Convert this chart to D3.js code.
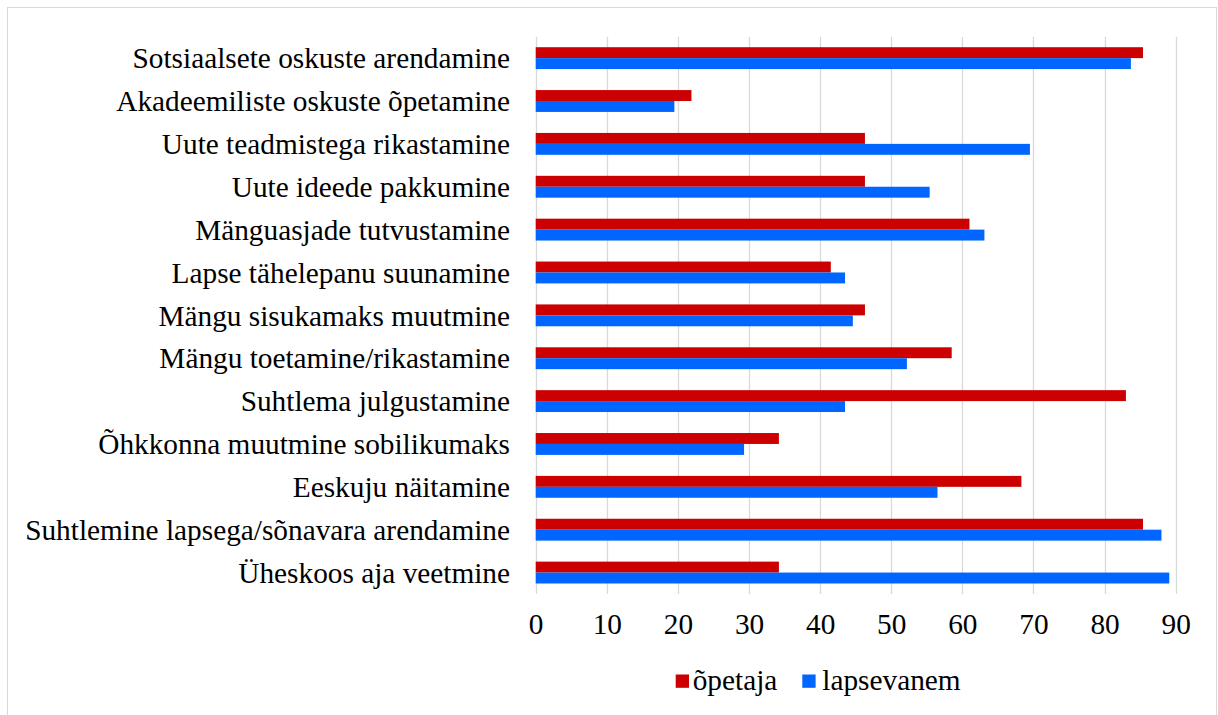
<!DOCTYPE html>
<html><head><meta charset="utf-8">
<script src="https://cdn.jsdelivr.net/npm/d3@7"></script>
<style>html,body{margin:0;padding:0;background:#fff;}svg{display:block;}
.lbl{font-family:"Liberation Serif","Times New Roman",serif;font-size:29.3px;fill:#000;}
</style>
</head><body>
<script>
const categories = [
  "Sotsiaalsete oskuste arendamine",
  "Akadeemiliste oskuste õpetamine",
  "Uute teadmistega rikastamine",
  "Uute ideede pakkumine",
  "Mänguasjade tutvustamine",
  "Lapse tähelepanu suunamine",
  "Mängu sisukamaks muutmine",
  "Mängu toetamine/rikastamine",
  "Suhtlema julgustamine",
  "Õhkkonna muutmine sobilikumaks",
  "Eeskuju näitamine",
  "Suhtlemine lapsega/sõnavara arendamine",
  "Üheskoos aja veetmine"
];
const opetaja    = [85.4, 21.9, 46.3, 46.3, 61.0, 41.5, 46.3, 58.5, 83.0, 34.2, 68.3, 85.4, 34.2];
const lapsevanem = [83.7, 19.5, 69.5, 55.4, 63.1, 43.5, 44.6, 52.2, 43.5, 29.3, 56.5, 88.0, 89.1];
const seriesNames = ["õpetaja", "lapsevanem"];
const tickValues = [0, 10, 20, 30, 40, 50, 60, 70, 80, 90];

const W = 1218, H = 715;
const colors = ["#CC0000", "#0066FF"];
const FONT = '"Liberation Serif","Times New Roman",serif';

const svg = d3.select("body").append("svg").attr("width", W).attr("height", H);
svg.append("rect").attr("x", 7.5).attr("y", 7.5).attr("width", 1209).attr("height", 720)
  .attr("fill", "#fff").attr("stroke", "#d9d9d9").attr("stroke-width", 1);

const x = d3.scaleLinear().domain([0, 90]).range([535.7, 1175.7]);
const y = d3.scaleBand().domain(categories).range([36.7, 594]).paddingInner(0.49).paddingOuter(0.245);
const sub = d3.scaleBand().domain(seriesNames).range([0, y.bandwidth()]);

// gridlines
svg.append("g").selectAll("line").data(tickValues).join("line")
  .attr("x1", d => Math.round(x(d)) + 0.5).attr("x2", d => Math.round(x(d)) + 0.5)
  .attr("y1", 36.7).attr("y2", 594)
  .attr("stroke", "#d9d9d9").attr("stroke-width", 1.3);

// bars
const data = [opetaja, lapsevanem];
seriesNames.forEach((s, si) => {
  svg.append("g").selectAll("rect").data(categories).join("rect")
    .attr("x", x(0))
    .attr("y", c => y(c) + sub(s))
    .attr("width", (c, i) => x(data[si][i]) - x(0))
    .attr("height", sub.bandwidth())
    .attr("fill", colors[si]);
});

// axes
const xAxis = d3.axisBottom(x).tickValues(tickValues).tickSize(0).tickPadding(0);
const gx = svg.append("g").attr("transform", "translate(0,634)").call(xAxis);
gx.select(".domain").remove();
gx.attr("font-family", null).attr("font-size", null);
gx.selectAll("text").attr("class", "lbl").attr("dy", null).attr("y", 0)
  .style("font-family", FONT).style("font-size", "29.3px");

const yAxis = d3.axisLeft(y).tickSize(0).tickPadding(25.7);
const gy = svg.append("g").attr("transform", `translate(${x(0)},0)`).call(yAxis);
gy.select(".domain").remove();
gy.attr("font-family", null).attr("font-size", null);
gy.selectAll("text").attr("class", "lbl").attr("dy", "0.35em")
  .style("font-family", FONT).style("font-size", "29.3px");

// legend
const legX = [675.7, 802.3];
const leg = svg.append("g");
seriesNames.forEach((s, i) => {
  leg.append("rect").attr("x", legX[i]).attr("y", 674.5).attr("width", 13.3).attr("height", 13.3).attr("fill", colors[i]);
  leg.append("text").attr("class", "lbl").attr("x", legX[i] + 17 + i * 3).attr("y", 690)
    .style("font-family", FONT).style("font-size", "29.3px").text(s);
});
</script>
</body></html>
